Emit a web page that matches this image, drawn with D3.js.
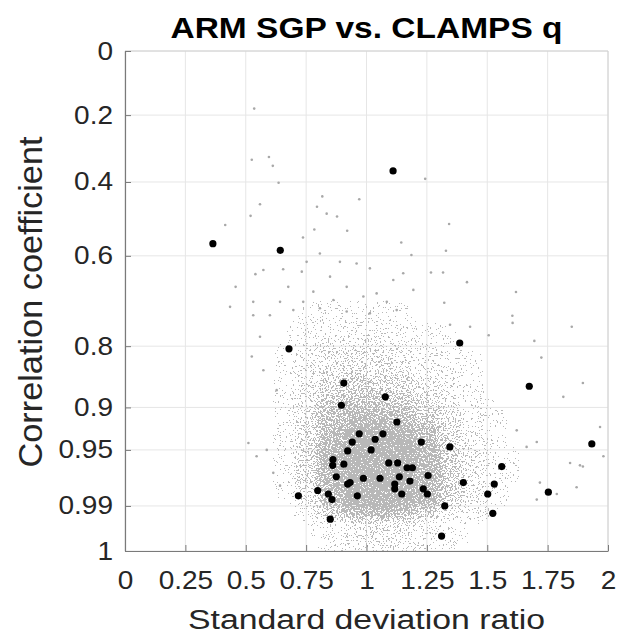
<!DOCTYPE html>
<html><head><meta charset="utf-8">
<script src="https://cdn.jsdelivr.net/npm/d3@7"></script>
<style>
html,body{margin:0;padding:0;background:#fff;}
svg{display:block;font-family:"Liberation Sans",Arial,Helvetica,sans-serif;}
</style>
</head><body>
<svg id="chart" width="621" height="636"></svg>
<script>
// ---------- data ----------
const title = "ARM SGP vs. CLAMPS q";
const xLabel = "Standard deviation ratio";
const yLabel = "Correlation coefficient";
const xTicks = [0, 0.25, 0.5, 0.75, 1, 1.25, 1.5, 1.75, 2];
const xTickLabels = ["0", "0.25", "0.5", "0.75", "1", "1.25", "1.5", "1.75", "2"];
const yTicks = [0, 0.2, 0.4, 0.6, 0.8, 0.9, 0.95, 0.99, 1];
const yTickLabels = ["0", "0.2", "0.4", "0.6", "0.8", "0.9", "0.95", "0.99", "1"];

// black dots: std ratio / correlation
const siteStd = [0.364,0.643,1.110,0.679,0.906,0.896,0.970,0.941,1.036,0.922,1.019,0.861,0.860,0.906,0.875,0.987,1.056,0.932,0.922,0.798,0.718,0.842,0.857,0.962,0.850,1.386,1.674,1.078,1.126,1.068,1.227,1.345,1.933,1.092,1.129,1.168,1.190,1.560,1.136,1.180,1.255,1.117,1.117,1.146,1.235,1.252,1.401,1.529,1.502,1.753,1.324,1.523,1.311];
const siteCorr = [0.569,0.586,0.368,0.805,0.864,0.897,0.933,0.942,0.939,0.951,0.950,0.959,0.964,0.963,0.973,0.974,0.974,0.977,0.978,0.982,0.985,0.984,0.987,0.985,0.995,0.794,0.869,0.885,0.919,0.933,0.942,0.947,0.944,0.962,0.962,0.966,0.966,0.965,0.973,0.976,0.972,0.978,0.981,0.984,0.981,0.984,0.977,0.978,0.984,0.983,0.990,0.993,0.9989];

// gray cloud: density of the background sample, binned
const cloudStdEdges = [0.4,0.5,0.6,0.7,0.8,0.9,1.0,1.1,1.2,1.3,1.4,1.5,1.6,1.7,1.8,1.9,2.0];
const cloudCorrEdges = [0.5,0.6,0.7,0.75,0.8,0.85,0.88,0.9,0.92,0.94,0.95,0.96,0.97,0.98,0.99,0.995,1.0];
const cloudDensity = [
  [0,0,0,0,0,0,0,0,0,0,0,0,0,0,0,0],
  [0,0,0,0,0,0,0,0,0,0,0,0,0,0,0,0],
  [0,0,0,.07,.09,.09,.08,.07,0,0,0,0,0,0,0,0],
  [0,0,.06,.14,.19,.21,.19,.16,.11,.07,0,0,0,0,0,0],
  [0,0,.07,.20,.30,.33,.30,.26,.18,.12,.07,0,0,0,0,0],
  [0,0,.08,.26,.42,.48,.45,.38,.28,.17,.09,0,0,0,0,0],
  [0,0,.08,.30,.52,.60,.60,.52,.38,.24,.12,.06,0,0,0,0],
  [0,0,.08,.32,.62,.75,.75,.66,.48,.30,.15,.07,0,0,0,0],
  [0,0,.08,.34,.70,.92,.95,.88,.66,.38,.19,.08,0,0,0,0],
  [0,0,.08,.35,.76,1,1,1,.76,.43,.22,.10,.06,0,0,0],
  [0,0,.08,.36,.80,1,1,1,.82,.48,.25,.11,.06,0,0,0],
  [0,0,.08,.36,.82,1,1,1,.82,.48,.25,.11,.06,0,0,0],
  [0,0,.08,.36,.80,1,1,1,.82,.50,.25,.11,.06,0,0,0],
  [0,0,.07,.30,.72,1,1,1,.76,.44,.21,.09,0,0,0,0],
  [0,0,0,.16,.48,.72,.76,.68,.48,.28,.12,.06,0,0,0,0],
  [0,0,0,.06,.14,.26,.30,.25,.17,.10,.06,0,0,0,0,0]
];
// individual outlying gray points of the cloud
const sparseStd = [0.535,0.525,0.596,0.612,0.636,0.559,0.520,0.415,0.817,0.795,0.835,0.878,0.970,0.784,0.737,0.920,0.458,0.540,0.573,1.342,1.329,1.144,1.186,1.243,1.416,1.619,1.267,1.317,1.604,1.605,1.850,1.695,1.724,1.506,1.322,1.429,1.346,1.967,1.815,1.843,1.884,1.896,1.705,1.870,1.981,1.622,1.663,1.718,1.788,1.896,1.705,0.531,0.559,0.511,0.545,0.642,0.587,0.614,0.628,0.573,0.525,0.807,0.752,0.655,0.732,0.849,0.890,0.959,1.014,1.111,0.676,0.780,0.918,1.042,1.152,0.531,0.642,0.738,0.863,0.987,1.084,1.194,0.435,0.600,0.697,0.807,0.918,1.014,1.125];
const sparseCorr = [0.180,0.335,0.327,0.353,0.402,0.463,0.495,0.520,0.441,0.470,0.489,0.497,0.449,0.532,0.553,0.535,0.675,0.645,0.635,0.517,0.587,0.566,0.598,0.391,0.664,0.687,0.641,0.641,0.739,0.754,0.762,0.790,0.821,0.779,0.711,0.762,0.758,0.925,0.885,0.962,0.964,0.965,0.942,0.980,0.956,0.929,0.947,0.977,0.984,0.864,0.987,0.738,0.782,0.943,0.956,0.979,0.950,0.970,0.875,0.843,0.819,0.594,0.615,0.633,0.639,0.651,0.615,0.619,0.631,0.659,0.675,0.686,0.675,0.690,0.643,0.709,0.709,0.709,0.705,0.697,0.709,0.682,0.720,0.738,0.727,0.723,0.730,0.734,0.727];

// ---------- layout ----------
const plot = {left: 125, right: 608, top: 51, bottom: 551};
const axisColor = "#7a7a7a", boxColor = "#d0d0d0", gridColor = "#e6e6e6";
const cloudColor = "#b8b8b8";
const tickStretch = 1.12;

const svg = d3.select("#chart");
const defs = svg.append("defs");

const x = d3.scaleLinear().domain([0, 2]).range([plot.left, plot.right]);
// correlation axis is linear in arccos(r)
const yAngle = d3.scaleLinear().domain([Math.PI / 2, 0]).range([plot.top, plot.bottom]);
function makeY() {
  const s = r => yAngle(Math.acos(Math.max(-1, Math.min(1, r))));
  s.domain = () => [0, 1];
  s.range = () => yAngle.range();
  s.copy = makeY;
  return s;
}
const y = makeY();

// speckle filter: binned density -> dithered gray dots
const f = defs.append("filter").attr("id", "speckle")
  .attr("filterUnits", "userSpaceOnUse")
  .attr("x", plot.left).attr("y", plot.top)
  .attr("width", plot.right - plot.left).attr("height", plot.bottom - plot.top)
  .attr("color-interpolation-filters", "sRGB");
f.append("feGaussianBlur").attr("in", "SourceGraphic").attr("stdDeviation", 4.5).attr("result", "b");
f.append("feTurbulence").attr("type", "fractalNoise").attr("baseFrequency", 0.6)
  .attr("numOctaves", 2).attr("seed", 7).attr("result", "t");
f.append("feColorMatrix").attr("in", "t").attr("type", "matrix")
  .attr("values", "0 0 0 0 0  0 0 0 0 0  0 0 0 0 0  2.6 0 0 0 -0.8").attr("result", "ta");
f.append("feComposite").attr("in", "b").attr("in2", "ta").attr("operator", "arithmetic")
  .attr("k1", 0).attr("k2", 1).attr("k3", 1).attr("k4", -0.56).attr("result", "s");
const ct = f.append("feComponentTransfer").attr("in", "s").attr("result", "m");
ct.append("feFuncA").attr("type", "discrete").attr("tableValues", "0 1");
f.append("feFlood").attr("flood-color", cloudColor).attr("result", "fl");
f.append("feComposite").attr("in", "fl").attr("in2", "m").attr("operator", "in");

// grid
const grid = svg.append("g");
grid.selectAll("line.gx").data(xTicks).join("line")
  .attr("x1", d => x(d)).attr("x2", d => x(d))
  .attr("y1", plot.top).attr("y2", plot.bottom)
  .attr("stroke", gridColor).attr("stroke-width", 1);
grid.selectAll("line.gy").data(yTicks).join("line")
  .attr("x1", plot.left).attr("x2", plot.right)
  .attr("y1", d => y(d)).attr("y2", d => y(d))
  .attr("stroke", gridColor).attr("stroke-width", 1);

// cloud density
const cells = [];
cloudDensity.forEach((row, i) => row.forEach((v, j) => {
  if (v > 0) cells.push({x0: cloudStdEdges[j], x1: cloudStdEdges[j + 1], r0: cloudCorrEdges[i], r1: cloudCorrEdges[i + 1], v});
}));
svg.append("g").attr("filter", "url(#speckle)")
  .selectAll("rect").data(cells).join("rect")
  .attr("x", d => x(d.x0)).attr("width", d => x(d.x1) - x(d.x0))
  .attr("y", d => y(d.r0)).attr("height", d => y(d.r1) - y(d.r0))
  .attr("fill", "#000").attr("fill-opacity", d => d.v);

// sparse gray points
svg.append("g").selectAll("circle").data(sparseStd.map((s, i) => [s, sparseCorr[i]])).join("circle")
  .attr("cx", d => x(d[0])).attr("cy", d => y(d[1])).attr("r", 1.3).attr("fill", "#a8a8a8");

// black dots
svg.append("g").selectAll("circle").data(siteStd.map((s, i) => [s, siteCorr[i]])).join("circle")
  .attr("cx", d => x(d[0])).attr("cy", d => y(d[1])).attr("r", 3.6).attr("fill", "#000");

// box (top, right)
svg.append("line").attr("x1", plot.left).attr("x2", plot.right).attr("y1", plot.top).attr("y2", plot.top).attr("stroke", boxColor);
svg.append("line").attr("x1", plot.right).attr("x2", plot.right).attr("y1", plot.top).attr("y2", plot.bottom).attr("stroke", boxColor);

// axes
function styleAxis(g) {
  g.select(".domain").attr("stroke", axisColor).attr("stroke-width", 1.2);
  g.selectAll(".tick line").attr("stroke", axisColor);
  g.selectAll(".tick text").attr("fill", "#262626").style("font-size", "25px")
    .each(function () {
      const len = this.getComputedTextLength();
      d3.select(this).attr("textLength", len * tickStretch).attr("lengthAdjust", "spacingAndGlyphs");
    });
}
const xAxis = d3.axisBottom(x).tickValues(xTicks).tickFormat((d, i) => xTickLabels[i])
  .tickSizeInner(-6).tickSizeOuter(0).tickPadding(20);
svg.append("g").attr("transform", `translate(0,${plot.bottom})`).call(xAxis)
  .attr("font-family", null).attr("font-size", null).call(styleAxis);

const yAxis = d3.axisLeft(y).tickValues(yTicks).tickFormat((d, i) => yTickLabels[i])
  .tickSizeInner(-6).tickSizeOuter(0).tickPadding(12);
svg.append("g").attr("transform", `translate(${plot.left},0)`).call(yAxis)
  .attr("font-family", null).attr("font-size", null).call(styleAxis);

// titles
const cx = (plot.left + plot.right) / 2;
svg.append("text").attr("x", cx).attr("y", 37.5).attr("text-anchor", "middle")
  .attr("font-weight", "bold").attr("font-size", 29).attr("fill", "#000")
  .attr("textLength", 392).attr("lengthAdjust", "spacingAndGlyphs").text(title);
svg.append("text").attr("x", cx).attr("y", 629).attr("text-anchor", "middle")
  .attr("font-size", 27).attr("fill", "#262626")
  .attr("textLength", 357).attr("lengthAdjust", "spacingAndGlyphs").text(xLabel);
svg.append("text").attr("transform", `translate(42,${(plot.top + plot.bottom) / 2 + 1}) rotate(-90)`)
  .attr("text-anchor", "middle").attr("font-size", 33).attr("fill", "#262626")
  .attr("textLength", 331).attr("lengthAdjust", "spacingAndGlyphs").text(yLabel);
</script>
</body></html>
